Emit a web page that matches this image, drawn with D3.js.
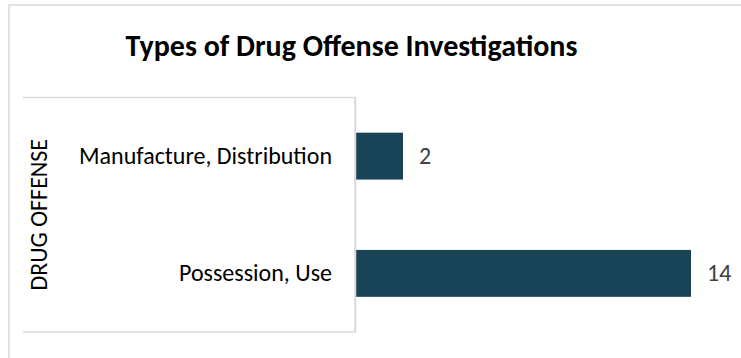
<!DOCTYPE html>
<html><head><meta charset="utf-8">
<script src="https://cdn.jsdelivr.net/npm/d3@7"></script>
<style>html,body{margin:0;padding:0;background:#fff;}svg{display:block;font-family:Carlito,Calibri,"Open Sans",sans-serif;}</style>
</head><body><div id="chart"></div>
<script>
const categories = ["Manufacture, Distribution", "Possession, Use"];
const values = [2, 14];
const title = "Types of Drug Offense Investigations";
const axisTitle = "DRUG OFFENSE";

const W = 741, H = 358;
const FONT = "Carlito,Calibri,'Open Sans',sans-serif";
const svg = d3.select("#chart").append("svg").attr("width", W).attr("height", H);

// outer chart border (cropped at right/bottom)
svg.append("path").attr("d", `M9,${H+5}V5H${W+5}`).attr("fill","none").attr("stroke","#d9d9d9").attr("stroke-width",1.5);

const plot = {left: 355, top: 97.5, bottom: 332};
const x = d3.scaleLinear().domain([0, 15.5]).range([plot.left, plot.left + 15.5*24]);
const y = d3.scaleBand().domain(categories).range([plot.top, plot.bottom]).paddingInner(0.6).paddingOuter(0.3);

// category label box
svg.append("path").attr("d", `M23,${plot.top}H${plot.left}V${plot.bottom}H23`).attr("fill","none").attr("stroke","#d9d9d9").attr("stroke-width",1.5);

svg.append("text").attr("x", 351.5).attr("y", 55.5).attr("text-anchor","middle")
  .attr("font-family", FONT).attr("font-size", 30).attr("font-weight", "bold").attr("fill","#000").text(title);

svg.selectAll("rect.bar").data(values).join("rect").attr("class","bar")
  .attr("x", x(0)).attr("y", (d,i)=>y(categories[i]))
  .attr("width", d=>x(d)-x(0)).attr("height", y.bandwidth()).attr("fill","#194457");

svg.selectAll("text.val").data(values).join("text").attr("class","val")
  .attr("x", d=>x(d)+16).attr("y", (d,i)=>y(categories[i])+y.bandwidth()/2).attr("dy","0.33em")
  .attr("font-family", FONT).attr("font-size", 24).attr("fill","#404040").text(d=>d);

const yAxis = svg.append("g").attr("transform", `translate(${plot.left},0)`)
  .call(d3.axisLeft(y).tickSize(0).tickPadding(23));
yAxis.select(".domain").attr("stroke","#d9d9d9").attr("stroke-width",1.5);
yAxis.selectAll("text").attr("font-size", 24).attr("fill","#000").attr("font-family", FONT);

svg.append("text").attr("transform", `translate(47,${(plot.top+plot.bottom)/2}) rotate(-90)`)
  .attr("text-anchor","middle").attr("font-family", FONT).attr("font-size", 24).attr("fill","#000").text(axisTitle);
</script></body></html>
